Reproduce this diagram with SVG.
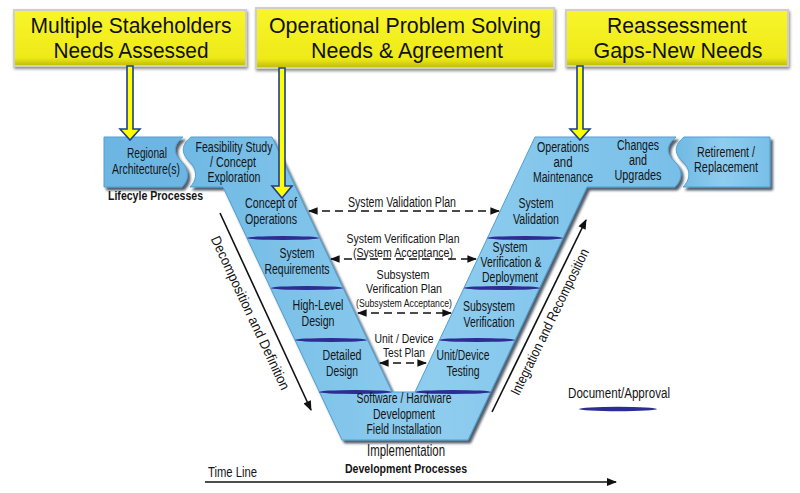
<svg xmlns="http://www.w3.org/2000/svg" width="800" height="493" viewBox="0 0 800 493">
<defs>
<style>
text{font-family:"Liberation Sans Narrow","Liberation Sans",Arial,sans-serif;fill:#141414;}
.big{font-size:22px;text-anchor:middle;fill:#111;}
.lb{font-size:14px;text-anchor:middle;}
.pl{font-size:12px;text-anchor:middle;}
.sm{font-size:10px;text-anchor:middle;}
.bold{font-weight:bold;font-size:12px;}
.yb{fill:url(#yel);stroke:#cfcfc4;stroke-width:2;filter:url(#shy);}
.vs{fill:url(#blu);stroke:#4f9fd2;stroke-width:1;filter:url(#sh);}
.sep{fill:#2c2c92;}
.dash{stroke:#111;stroke-width:1.6;fill:none;stroke-dasharray:8,5;marker-start:url(#ah);marker-end:url(#ah);}
.sol{stroke:#111;stroke-width:1.6;fill:none;marker-end:url(#ah2);}
.ya{fill:#ffff00;stroke:#1d3f8f;stroke-width:1.6;stroke-linejoin:miter;}
</style>
<linearGradient id="yel" x1="0" y1="0" x2="0" y2="1">
<stop offset="0" stop-color="#f8f52c"/><stop offset="0.85" stop-color="#eeea18"/><stop offset="1" stop-color="#bdb90a"/>
</linearGradient>
<linearGradient id="blu" x1="0" y1="0" x2="1" y2="0">
<stop offset="0" stop-color="#6fb9e4"/><stop offset="0.5" stop-color="#8fcdef"/><stop offset="1" stop-color="#78bfe8"/>
</linearGradient>
<filter id="sh" x="-10%" y="-10%" width="130%" height="130%">
<feDropShadow dx="2.5" dy="3" stdDeviation="1.2" flood-color="#1a2a3a" flood-opacity="0.75"/>
</filter>
<filter id="shy" x="-10%" y="-20%" width="130%" height="150%">
<feDropShadow dx="1" dy="2" stdDeviation="1.5" flood-color="#000" flood-opacity="0.45"/>
</filter>
<marker id="ah" viewBox="0 0 10 8" refX="9" refY="4" markerWidth="6" markerHeight="5" markerUnits="strokeWidth" orient="auto-start-reverse">
<path d="M0,0 L10,4 L0,8 Z" fill="#111"/>
</marker>
<marker id="ah2" viewBox="0 0 10 8" refX="9" refY="4" markerWidth="7" markerHeight="5" markerUnits="strokeWidth" orient="auto">
<path d="M0,0 L10,4 L0,8 Z" fill="#111"/>
</marker>
</defs>

<rect width="800" height="493" fill="#fff"/>

<!-- top yellow boxes -->
<g id="stakeholders">
<rect class="yb" x="14" y="10" width="232" height="56"/>
<text class="big" x="131" y="33" textLength="201" lengthAdjust="spacingAndGlyphs">Multiple Stakeholders</text>
<text class="big" x="131" y="58" textLength="155" lengthAdjust="spacingAndGlyphs">Needs Assessed</text>
</g>
<g id="operational">
<rect class="yb" x="256" y="8" width="298" height="60"/>
<text class="big" x="405" y="33" textLength="272" lengthAdjust="spacingAndGlyphs">Operational Problem Solving</text>
<text class="big" x="407" y="58" textLength="192" lengthAdjust="spacingAndGlyphs">Needs &amp; Agreement</text>
</g>
<g id="reassessment">
<rect class="yb" x="566" y="10" width="222" height="56"/>
<text class="big" x="677" y="33" textLength="140" lengthAdjust="spacingAndGlyphs">Reassessment</text>
<text class="big" x="678" y="58" textLength="169" lengthAdjust="spacingAndGlyphs">Gaps-New Needs</text>
</g>

<!-- V shape -->
<g id="v-shape">
<path class="vs" d="M191,137 L272,137 L392,392 L415,392 L535,137 L676,137 C666,145 666,153 674,161 C684,170 682,180 675,187 L587,187 L468,440 L342,440 L223,187 L190,187 C197,180 198,170 189,161 C181,153 181,145 191,137 Z"/>
<ellipse class="sep" cx="283" cy="238" rx="36" ry="2"/>
<ellipse class="sep" cx="307" cy="288" rx="36" ry="2"/>
<ellipse class="sep" cx="331" cy="340" rx="36" ry="2"/>
<ellipse class="sep" cx="355.5" cy="392" rx="36.5" ry="2"/>
<ellipse class="sep" cx="525" cy="238" rx="38" ry="2"/>
<ellipse class="sep" cx="502" cy="288" rx="38" ry="2"/>
<ellipse class="sep" cx="477" cy="340" rx="38" ry="2"/>
<ellipse class="sep" cx="453" cy="392" rx="38" ry="2"/>
</g>

<g id="regional">
<path class="vs" style="fill:#6db6e3" d="M104,137 L183,137 C173,145 173,153 181,161 C190,170 189,180 182,187 L104,187 Z"/>
<text class="lb" x="147" y="158" textLength="40" lengthAdjust="spacingAndGlyphs">Regional</text>
<text class="lb" x="146" y="174" textLength="68" lengthAdjust="spacingAndGlyphs">Architecture(s)</text>
</g>
<g id="retirement">
<path class="vs" d="M684,137 L770,137 L770,187 L683,187 C690,180 692,170 682,161 C674,153 674,145 684,137 Z"/>
<text class="lb" x="726" y="157" textLength="58" lengthAdjust="spacingAndGlyphs">Retirement /</text>
<text class="lb" x="726" y="172" textLength="64" lengthAdjust="spacingAndGlyphs">Replacement</text>
</g>

<g id="feasibility">
<text class="lb" x="234" y="152" textLength="77" lengthAdjust="spacingAndGlyphs">Feasibility Study</text>
<text class="lb" x="233" y="167" textLength="46" lengthAdjust="spacingAndGlyphs">/ Concept</text>
<text class="lb" x="234" y="182" textLength="53" lengthAdjust="spacingAndGlyphs">Exploration</text>
</g>
<g id="concept-ops">
<text class="lb" x="271" y="208" textLength="52" lengthAdjust="spacingAndGlyphs">Concept of</text>
<text class="lb" x="271" y="224" textLength="52" lengthAdjust="spacingAndGlyphs">Operations</text>
</g>
<g id="sys-req">
<text class="lb" x="297" y="258" textLength="35" lengthAdjust="spacingAndGlyphs">System</text>
<text class="lb" x="297" y="274" textLength="65" lengthAdjust="spacingAndGlyphs">Requirements</text>
</g>
<g id="hl-design">
<text class="lb" x="318" y="310" textLength="51" lengthAdjust="spacingAndGlyphs">High-Level</text>
<text class="lb" x="318" y="326" textLength="33" lengthAdjust="spacingAndGlyphs">Design</text>
</g>
<g id="det-design">
<text class="lb" x="342" y="360" textLength="39" lengthAdjust="spacingAndGlyphs">Detailed</text>
<text class="lb" x="342" y="376" textLength="32" lengthAdjust="spacingAndGlyphs">Design</text>
</g>
<g id="implementation">
<text class="lb" x="404" y="403" textLength="95" lengthAdjust="spacingAndGlyphs">Software / Hardware</text>
<text class="lb" x="404" y="419" textLength="62" lengthAdjust="spacingAndGlyphs">Development</text>
<text class="lb" x="404" y="434" textLength="75" lengthAdjust="spacingAndGlyphs">Field Installation</text>
<text class="lb" style="font-size:16px" x="406" y="456" textLength="78" lengthAdjust="spacingAndGlyphs">Implementation</text>
</g>
<g id="unit-testing">
<text class="lb" x="463" y="360" textLength="53" lengthAdjust="spacingAndGlyphs">Unit/Device</text>
<text class="lb" x="463" y="376" textLength="33" lengthAdjust="spacingAndGlyphs">Testing</text>
</g>
<g id="subsys-verif">
<text class="lb" x="489" y="311" textLength="52" lengthAdjust="spacingAndGlyphs">Subsystem</text>
<text class="lb" x="489" y="327" textLength="51" lengthAdjust="spacingAndGlyphs">Verification</text>
</g>
<g id="sys-verif">
<text class="lb" x="510" y="252" textLength="35" lengthAdjust="spacingAndGlyphs">System</text>
<text class="lb" x="511" y="267" textLength="61" lengthAdjust="spacingAndGlyphs">Verification &amp;</text>
<text class="lb" x="510" y="282" textLength="56" lengthAdjust="spacingAndGlyphs">Deployment</text>
</g>
<g id="sys-valid">
<text class="lb" x="536" y="208" textLength="35" lengthAdjust="spacingAndGlyphs">System</text>
<text class="lb" x="536" y="224" textLength="46" lengthAdjust="spacingAndGlyphs">Validation</text>
</g>
<g id="ops-maint">
<text class="lb" x="563" y="152" textLength="52" lengthAdjust="spacingAndGlyphs">Operations</text>
<text class="lb" x="563" y="167" textLength="19" lengthAdjust="spacingAndGlyphs">and</text>
<text class="lb" x="563" y="182" textLength="60" lengthAdjust="spacingAndGlyphs">Maintenance</text>
</g>
<g id="changes">
<text class="lb" x="638" y="150" textLength="42" lengthAdjust="spacingAndGlyphs">Changes</text>
<text class="lb" x="638" y="165" textLength="18" lengthAdjust="spacingAndGlyphs">and</text>
<text class="lb" x="638" y="180" textLength="47" lengthAdjust="spacingAndGlyphs">Upgrades</text>
</g>

<!-- free labels -->
<g id="labels">
<text class="bold" x="108" y="200" textLength="95" lengthAdjust="spacingAndGlyphs">Lifecyle Processes</text>
<text class="bold" x="406" y="473" text-anchor="middle" textLength="122" lengthAdjust="spacingAndGlyphs">Development Processes</text>
<text style="font-size:14px" x="208" y="477" textLength="49" lengthAdjust="spacingAndGlyphs">Time Line</text>
<text class="lb" x="402" y="207" textLength="108" lengthAdjust="spacingAndGlyphs">System Validation Plan</text>
<text class="pl" x="403" y="243" textLength="113" lengthAdjust="spacingAndGlyphs">System Verification Plan</text>
<text class="pl" x="403" y="257" textLength="100" lengthAdjust="spacingAndGlyphs">(System Acceptance)</text>
<text class="pl" x="403" y="279" textLength="53" lengthAdjust="spacingAndGlyphs">Subsystem</text>
<text class="pl" x="404" y="293" textLength="76" lengthAdjust="spacingAndGlyphs">Verification Plan</text>
<text class="sm" x="404" y="307" textLength="96" lengthAdjust="spacingAndGlyphs">(Subsystem Acceptance)</text>
<text class="pl" x="404" y="343" textLength="59" lengthAdjust="spacingAndGlyphs">Unit / Device</text>
<text class="pl" x="404" y="357" textLength="42" lengthAdjust="spacingAndGlyphs">Test Plan</text>
<text class="lb" transform="translate(246,315) rotate(65)" x="0" y="0" textLength="168" lengthAdjust="spacingAndGlyphs">Decomposition and Definition</text>
<text class="lb" transform="translate(554,324) rotate(-64)" x="0" y="0" textLength="161" lengthAdjust="spacingAndGlyphs">Integration and Recomposition</text>
</g>

<g id="legend">
<text class="lb" x="619" y="398" textLength="102" lengthAdjust="spacingAndGlyphs">Document/Approval</text>
<ellipse class="sep" cx="618" cy="409" rx="39" ry="2.2"/>
</g>

<!-- connectors -->
<g id="connectors">
<path class="ya" d="M127,66 L133,66 L133,129 L140,129 L130,140 L120,129 L127,129 Z"/>
<path class="ya" d="M279,68 L285,68 L285,186 L292,186 L282,198 L272,186 L279,186 Z"/>
<path class="ya" d="M577,66 L583,66 L583,129 L590,129 L580,140 L570,129 L577,129 Z"/>
<line class="dash" x1="309" y1="211" x2="499" y2="211"/>
<line class="dash" x1="331" y1="259" x2="476" y2="259"/>
<line class="dash" x1="358" y1="313" x2="451" y2="313"/>
<line class="dash" x1="380" y1="363" x2="426" y2="363"/>
<line class="sol" x1="220" y1="213" x2="311" y2="410"/>
<line class="sol" x1="492" y1="412" x2="586" y2="220"/>
<line class="sol" x1="205" y1="482" x2="616" y2="482"/>
</g>
</svg>
